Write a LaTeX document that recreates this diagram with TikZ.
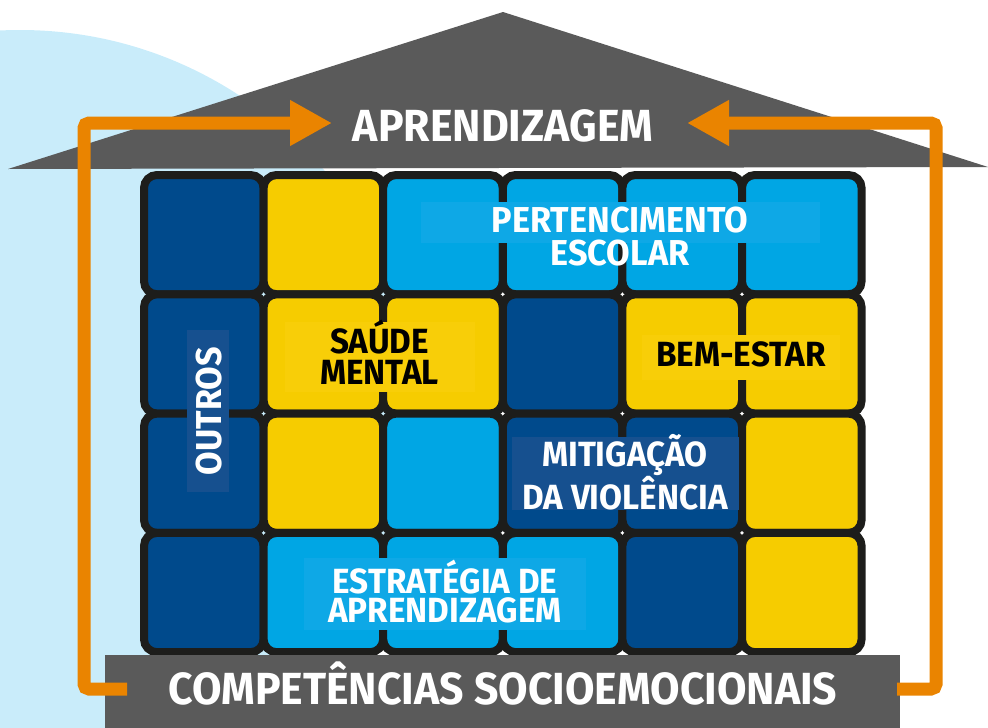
\documentclass[tikz,border=0pt]{standalone}
\usepackage{fontspec}
\setmainfont{Fira Sans}[FakeStretch=0.95]
\definecolor{ebdark}{RGB}{0,74,140}
\definecolor{ebyellow}{RGB}{246,204,0}
\definecolor{eblight}{RGB}{0,166,228}
\definecolor{ebline}{RGB}{29,29,27}
\definecolor{ebroof}{RGB}{90,90,90}
\definecolor{eborange}{RGB}{234,132,0}
\definecolor{ebsky}{RGB}{201,236,250}
\definecolor{ebdarkbox}{RGB}{22,80,143}
\definecolor{eblightbox}{RGB}{14,168,230}
\definecolor{ebyellowbox}{RGB}{248,206,8}
\usetikzlibrary{arrows.meta}

\begin{document}
\begin{tikzpicture}[x=1pt, y=-1pt,
  cell/.style={draw=ebline, line width=8pt, rounded corners=13pt, minimum width=119.6pt, minimum height=119.3pt, inner sep=0pt},
  tagbox/.style={inner sep=0pt, outer sep=0pt},
  flow/.style={draw=eborange, line width=13pt, rounded corners=5pt, -{Triangle[length=42pt,width=43pt]}}]
  \useasboundingbox (0,0) rectangle (988,728);
  \clip (0,0) rectangle (988,728);

  % background and roof
  \fill[ebsky] (20,430) circle[radius=400pt];
  \fill[ebroof] (8,169) -- (503,12) -- (988,167) -- cycle;

  % cube of cells
  \foreach \clr [count=\k from 0] in {ebdark,ebyellow,eblight,eblight,eblight,eblight,%
ebdark,ebyellow,ebyellow,ebdark,ebyellow,ebyellow,%
ebdark,ebyellow,eblight,ebdark,ebdark,ebyellow,%
ebdark,eblight,eblight,eblight,ebdark,ebyellow}{
    \pgfmathtruncatemacro{\row}{floor(\k/6)}
    \pgfmathtruncatemacro{\col}{mod(\k,6)}
    \node[cell, fill=\clr] (cell-\row-\col) at ({203.8+119.6*\col},{234.65+119.3*\row}) {};
  }

  % labels on the cube
  \node[tagbox, fill=eblightbox, minimum width=399pt, minimum height=41pt] (pertbox) at (620.5,222.5) {};
  \node[text=white, align=center, font=\fontsize{36}{33}\selectfont\bfseries] (pert) at (620,237) {PERTENCIMENTO\\ESCOLAR};

  \node[tagbox, fill=ebyellowbox, minimum width=190pt, minimum height=70pt] (saudebox) at (379.5,357) {};
  \node[text=black, align=center, font=\fontsize{35}{31}\selectfont\bfseries] (saude) at (379.5,352) {SAÚDE\\MENTAL};

  \node[tagbox, fill=ebyellowbox, minimum width=198pt, minimum height=45pt] (bembox) at (741,357.5) {};
  \node[anchor=base, text=black, font=\fontsize{35}{35}\selectfont\bfseries] (bem) at (741,366) {BEM-ESTAR};

  \node[tagbox, fill=ebdarkbox, minimum width=42pt, minimum height=162pt] (outrosbox) at (208,411) {};
  \node[rotate=90, text=white, font=\fontsize{36}{36}\selectfont\bfseries] (outros) at (209.5,411) {OUTROS};

  \node[tagbox, fill=ebdarkbox, minimum width=227pt, minimum height=73pt] (mitbox) at (625.5,473.5) {};
  \node[text=white, align=center, font=\fontsize{35}{30}\selectfont\bfseries] (mit) at (625,472) {MITIGAÇÃO\\DA VIOLÊNCIA};

  \node[tagbox, fill=eblightbox, minimum width=282pt, minimum height=72pt] (estbox) at (445,594) {};
  \node[text=white, align=center, font=\fontsize{35}{29}\selectfont\bfseries] (est) at (445,591.5) {ESTRATÉGIA DE\\APRENDIZAGEM};

  % base and title
  \node[tagbox, fill=ebroof, minimum width=795pt, minimum height=75pt] (base) at (502.5,692.5) {};
  \node[anchor=base, text=white, font=\fontsize{45}{45}\selectfont\bfseries] (socio) at (503,704) {COMPETÊNCIAS SOCIOEMOCIONAIS};
  \node[anchor=base, text=white, font=\fontsize{45}{45}\selectfont\bfseries] (aprend) at (503,141) {APRENDIZAGEM};

  % loop arrows
  \coordinate (fromL) at (127,689);
  \coordinate (fromR) at (897,689);
  \coordinate (tipL) at (332,123);
  \coordinate (tipR) at (687,123);
  \draw[flow] (fromL) -- ++(-43,0) |- (tipL);
  \draw[flow] (fromR) -- ++(39,0) |- (tipR);
\end{tikzpicture}
\end{document}
